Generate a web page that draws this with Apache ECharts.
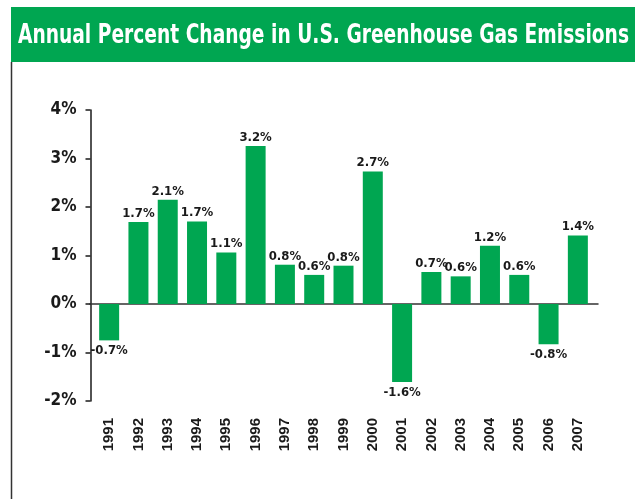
<!DOCTYPE html>
<html>
<head>
<meta charset="utf-8">
<script src="https://cdn.jsdelivr.net/npm/echarts@6/dist/echarts.min.js"></script>
<style>
  html, body { margin: 0; padding: 0; background: #fff; }
  #chart { width: 635px; height: 499px; }
</style>
</head>
<body>
<div id="chart"></div>
<script>
// 数据
const titleText = 'Annual Percent Change in U.S. Greenhouse Gas Emissions';
const years = ['1991', '1992', '1993', '1994', '1995', '1996', '1997', '1998', '1999',
  '2000', '2001', '2002', '2003', '2004', '2005', '2006', '2007'];
const changes = [-0.75, 1.69, 2.15, 1.7, 1.06, 3.26, 0.81, 0.6, 0.79,
  2.73, -1.61, 0.66, 0.57, 1.2, 0.6, -0.83, 1.41];
const changeLabels = ['-0.7%', '1.7%', '2.1%', '1.7%', '1.1%', '3.2%', '0.8%', '0.6%', '0.8%',
  '2.7%', '-1.6%', '0.7%', '0.6%', '1.2%', '0.6%', '-0.8%', '1.4%'];
const yMin = -2, yMax = 4, yStep = 1;

const GREEN = '#00a651';
const narrow = '"Liberation Sans Narrow", "DejaVu Sans Condensed", sans-serif';
const plain = '"Liberation Sans", Arial, sans-serif';

// 标题宽度按参考图压缩
function fitScale(text, font, target) {
  const ctx = document.createElement('canvas').getContext('2d');
  ctx.font = font;
  return target / ctx.measureText(text).width;
}
const titleScale = fitScale(titleText, 'bold 27px ' + narrow, 611);

const myChart = echarts.init(document.getElementById('chart'));
const option = {
  backgroundColor: '#fff',
  animation: false,
  graphic: [
    { type: 'rect', shape: { x: 11, y: 7, width: 624, height: 55 }, style: { fill: GREEN }, silent: true },
    { type: 'line', shape: { x1: 11.5, y1: 62, x2: 11.5, y2: 499 }, style: { stroke: '#333', lineWidth: 1.5 }, silent: true },
    {
      type: 'text', x: 18, y: 36, scaleX: titleScale,
      style: {
        text: titleText, fill: '#fff', fontSize: 27, fontWeight: 'bold',
        fontFamily: narrow, verticalAlign: 'middle'
      },
      silent: true
    }
  ],
  grid: [
    { left: 94.5, right: 42.5, top: 110, bottom: 98 },
    { left: 90, right: 37, top: 110, bottom: 98 } // 零线
  ],
  xAxis: [
    {
      type: 'category', data: years, gridIndex: 0,
      axisLine: { show: false, onZero: false },
      axisTick: { show: false },
      axisLabel: {
        rotate: 90, margin: 17, color: '#1a1a1a',
        fontSize: 15, fontWeight: 'bold', fontFamily: plain
      }
    },
    {
      type: 'category', data: years, gridIndex: 1,
      axisLine: { onZero: true, lineStyle: { color: '#333', width: 1.5 } },
      axisTick: { show: false },
      axisLabel: { show: false }
    }
  ],
  yAxis: [
    {
      type: 'value', gridIndex: 0, min: yMin, max: yMax, interval: yStep, offset: 4,
      axisLine: { show: true, lineStyle: { color: '#1a1a1a', width: 1.5 } },
      axisTick: { show: true, length: 5, lineStyle: { color: '#1a1a1a', width: 1.5 } },
      splitLine: { show: false },
      axisLabel: {
        formatter: '{value}%', margin: 14, color: '#1a1a1a',
        fontSize: 17, fontWeight: 'bold', fontFamily: narrow
      }
    },
    {
      type: 'value', gridIndex: 1, min: yMin, max: yMax, interval: yStep, show: false
    }
  ],
  series: [
    {
      type: 'bar',
      xAxisIndex: 0, yAxisIndex: 0,
      barWidth: 20,
      itemStyle: { color: GREEN },
      data: changes.map((v, i) => ({
        value: v,
        label: {
          show: true,
          position: v < 0 ? 'bottom' : 'top',
          distance: v < 0 ? 4 : 2,
          formatter: changeLabels[i],
          color: '#1a1a1a', fontSize: 13, fontWeight: 'bold', fontFamily: narrow
        }
      }))
    }
  ]
};
myChart.setOption(option);
window.addEventListener('resize', () => {
  myChart.resize();
});
</script>
</body>
</html>
